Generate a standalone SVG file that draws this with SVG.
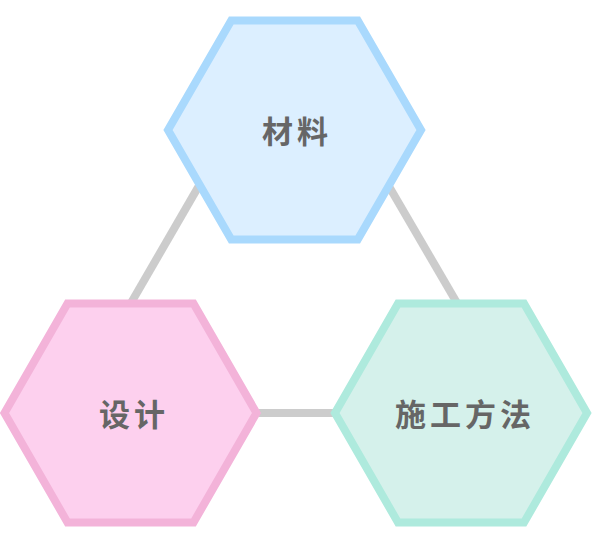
<svg xmlns="http://www.w3.org/2000/svg" width="592" height="544" viewBox="0 0 592 544">
<style>
.hex{stroke-width:8;stroke-linejoin:miter}
.lbl{font-family:"Noto Sans CJK SC","Noto Sans",sans-serif;font-weight:bold;font-size:31px;fill:#666666;text-anchor:middle;letter-spacing:4px}
.con{stroke:#cccccc;stroke-width:8;fill:none}
</style>
<rect width="592" height="544" fill="#ffffff"/>
<g id="connectors">
<line class="con" x1="295" y1="20" x2="131" y2="303"/>
<line class="con" x1="292" y1="20" x2="457" y2="303"/>
<line class="con" x1="130.5" y1="413" x2="461" y2="413"/>
</g>
<g id="node-materials">
<polygon class="hex" fill="#dcefff" stroke="#a9d9fd" points="168,130 231.25,20.5 357.75,20.5 421,130 357.75,239.5 231.25,239.5"/>
<text class="lbl" x="297" y="142.5">材料</text>
</g>
<g id="node-design">
<polygon class="hex" fill="#fdd0ee" stroke="#f3b3d9" points="4.5,413 67.5,303.5 193.5,303.5 256.5,413 193.5,522.5 67.5,522.5"/>
<text class="lbl" x="134" y="425.5">设计</text>
</g>
<g id="node-method">
<polygon class="hex" fill="#d5f1eb" stroke="#aeeadd" points="335,413 398,303.5 524,303.5 587,413 524,522.5 398,522.5"/>
<text class="lbl" x="465" y="425.5">施工方法</text>
</g>
</svg>
